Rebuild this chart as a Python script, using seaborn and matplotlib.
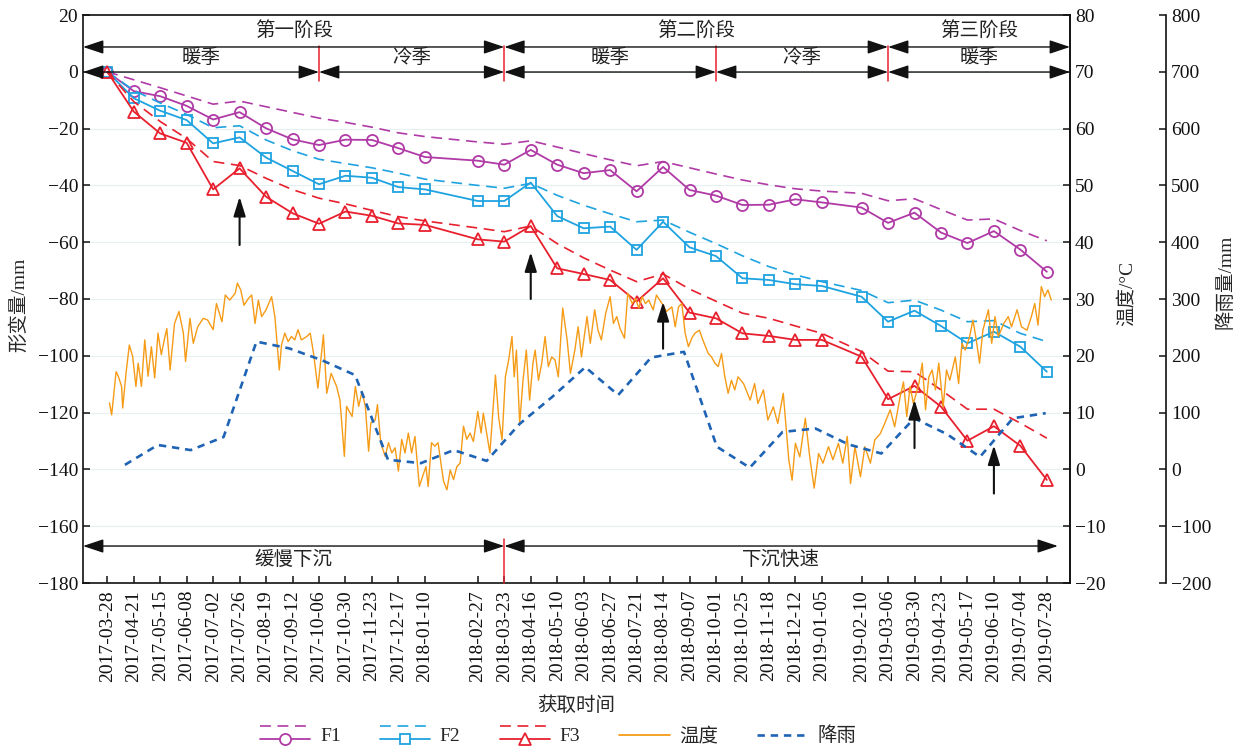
import numpy as np
import pandas as pd
import matplotlib
matplotlib.use("Agg")
import matplotlib.pyplot as plt
import matplotlib.dates as mdates
import matplotlib.transforms as mtrans
from matplotlib.lines import Line2D
from matplotlib.legend_handler import HandlerBase
import seaborn as sns

sns.set_style("ticks")
plt.rcParams["font.family"] = ["Liberation Serif", "Noto Sans CJK SC"]
plt.rcParams["axes.unicode_minus"] = True

# ---------------- data ----------------
dates = ["2017-03-28", "2017-04-21", "2017-05-15", "2017-06-08", "2017-07-02",
         "2017-07-26", "2017-08-19", "2017-09-12", "2017-10-06", "2017-10-30",
         "2017-11-23", "2017-12-17", "2018-01-10", "2018-02-27", "2018-03-23",
         "2018-04-16", "2018-05-10", "2018-06-03", "2018-06-27", "2018-07-21",
         "2018-08-14", "2018-09-07", "2018-10-01", "2018-10-25", "2018-11-18",
         "2018-12-12", "2019-01-05", "2019-02-10", "2019-03-06", "2019-03-30",
         "2019-04-23", "2019-05-17", "2019-06-10", "2019-07-04", "2019-07-28"]

F1 = [0, -6.8, -8.6, -12.0, -16.8, -14.2, -19.9, -23.8, -25.8, -23.9,
      -24.0, -26.9, -30.0, -31.3, -32.7, -27.5, -32.7, -35.7, -34.6, -42.1,
      -33.5, -41.6, -43.6, -46.9, -46.8, -44.9, -46.0, -47.8, -53.2, -49.6,
      -56.6, -60.3, -56.1, -62.6, -70.4]
F1_fit = [0, -2.8, -5.6, -8.5, -11.4, -10.3, -12.3, -14.3, -16.3, -17.8,
          -19.5, -21.5, -22.8, -24.7, -25.5, -24.3, -26.5, -28.8, -31.0, -33.1,
          -31.6, -33.8, -36.0, -38.1, -39.8, -41.2, -42.0, -42.8, -45.4, -44.7,
          -48.5, -52.2, -51.8, -55.9, -59.5]
F2 = [0, -9.3, -13.7, -17.0, -25.2, -23.1, -30.2, -34.9, -39.6, -36.6,
      -37.3, -40.6, -41.4, -45.5, -45.5, -39.0, -50.8, -55.1, -54.5, -62.7,
      -52.8, -61.8, -64.9, -72.7, -73.3, -74.8, -75.4, -79.2, -88.0, -84.1,
      -89.5, -95.6, -91.5, -96.8, -105.6]
F2_fit = [0, -6.5, -11.0, -15.0, -19.7, -19.0, -24.0, -27.8, -30.8, -32.3,
          -33.8, -35.7, -37.8, -40.0, -41.0, -39.3, -43.5, -47.0, -50.0, -52.8,
          -52.2, -56.5, -60.5, -64.8, -68.6, -71.5, -73.9, -77.0, -81.3, -80.4,
          -83.9, -88.0, -87.6, -92.1, -95.0]
F3 = [0, -14.0, -21.7, -25.0, -41.4, -34.0, -44.0, -49.8, -53.5, -49.2,
      -50.7, -53.4, -53.9, -59.0, -59.8, -54.3, -69.2, -71.2, -73.3, -80.9,
      -72.7, -84.8, -86.8, -92.1, -93.0, -94.4, -94.4, -100.3, -115.3, -110.6,
      -117.9, -129.9, -124.8, -131.7, -143.7]
F3_fit = [0, -10.5, -17.5, -23.5, -31.6, -33.0, -37.5, -41.5, -44.5, -46.5,
          -48.8, -51.0, -52.5, -55.0, -56.3, -54.3, -60.5, -65.5, -69.8, -73.9,
          -71.2, -76.5, -80.8, -85.0, -86.8, -89.5, -92.1, -98.5, -105.4, -105.6,
          -112.0, -118.8, -118.8, -123.7, -129.0]

# temperature readings: day offset from 2017-03-28, value (degC)
temp_day = [2, 4, 8, 10, 13, 14, 17, 20, 23, 26,
            28, 31, 34, 37, 40, 43, 46, 49, 52, 54,
            57, 61, 65, 69, 71, 75, 78, 82, 87, 91,
            96, 99, 104, 107, 111, 116, 118, 121, 124, 128,
            131, 134, 137, 140, 144, 149, 152, 156, 158, 161,
            164, 167, 170, 173, 176, 181, 184, 187, 191, 196,
            199, 203, 208, 211, 215, 217, 222, 225, 228, 231,
            234, 237, 239, 243, 245, 248, 252, 255, 258, 261,
            264, 267, 270, 273, 276, 279, 283, 286, 289, 291,
            294, 297, 300, 303, 305, 308, 311, 314, 317, 320,
            323, 326, 329, 332, 336, 339, 341, 345, 347, 352,
            355, 358, 361, 364, 367, 369, 371, 374, 377, 380,
            383, 386, 388, 391, 394, 397, 400, 403, 406, 409,
            413, 417, 420, 424, 427, 430, 435, 438, 442, 445,
            448, 452, 456, 459, 462, 465, 469, 472, 476, 479,
            482, 485, 488, 491, 495, 498, 501, 504, 507, 512,
            515, 518, 521, 524, 527, 530, 533, 537, 540, 545,
            548, 551, 554, 557, 560, 563, 566, 569, 572, 577,
            583, 587, 590, 595, 599, 604, 608, 613, 618, 621,
            624, 628, 633, 637, 641, 645, 649, 654, 658, 663,
            667, 671, 674, 678, 683, 687, 692, 696, 701, 705,
            710, 714, 719, 722, 725, 728, 731, 736, 739, 742,
            745, 748, 751, 754, 758, 761, 764, 769, 772, 775,
            778, 782, 785, 788, 791, 794, 799, 802, 805, 808,
            813, 817, 820, 825, 829, 834, 838, 841, 844, 847,
            850, 853, 856]
temp_val = [11.7, 9.6, 17.2, 16.4, 14.6, 10.8, 16.9, 21.9, 19.9, 14.6,
            18.7, 14.6, 22.8, 16.4, 21.6, 16.1, 24.0, 20.2, 23.1, 24.8,
            17.5, 25.7, 27.8, 24.0, 19.0, 26.6, 22.2, 25.1, 26.6, 26.3,
            24.6, 29.2, 26.0, 30.7, 29.8, 31.0, 32.8, 31.6, 28.9, 30.1,
            30.7, 25.7, 29.8, 26.9, 28.1, 30.4, 26.9, 17.5, 21.9, 24.0,
            22.5, 23.4, 22.8, 24.6, 22.8, 23.4, 24.0, 20.5, 14.3, 23.7,
            13.4, 16.9, 14.6, 12.2, 2.3, 11.1, 9.3, 14.6, 11.1, 13.7,
            11.1, 3.2, 8.2, 8.7, 11.4, 4.7, 2.3, 4.7, 2.9, 3.8,
            -0.3, 5.3, 2.9, 6.4, 2.9, 5.8, -3.0, -1.2, 0.5, -3.0,
            4.7, 4.1, 4.7, 0.5, -2.1, -3.6, -0.1, -1.8, 0.5, 1.1,
            7.6, 5.3, 6.4, 4.9, 10.2, 6.4, 9.9, 5.3, 2.9, 16.6,
            9.0, 5.2, 16.3, 19.3, 23.4, 16.3, 21.0, 8.1, 15.7, 21.0,
            12.2, 18.7, 21.0, 15.7, 18.7, 23.4, 18.1, 19.8, 19.3, 16.3,
            28.4, 22.8, 16.9, 21.0, 25.1, 19.8, 26.9, 22.2, 28.1, 24.5,
            22.8, 27.5, 30.4, 25.7, 26.9, 24.8, 23.1, 31.0, 29.2, 30.1,
            28.4, 30.4, 29.2, 29.8, 28.1, 30.7, 29.8, 28.9, 27.8, 28.6,
            25.1, 28.6, 29.2, 24.0, 21.6, 23.1, 24.0, 24.5, 22.8, 20.4,
            19.8, 18.7, 18.1, 20.4, 16.3, 13.4, 15.7, 14.0, 16.3, 15.1,
            12.2, 15.1, 11.6, 14.0, 8.7, 11.0, 8.1, 13.4, 1.7, -1.9,
            4.6, 2.2, 9.0, 2.2, -3.3, 2.8, 1.1, 4.0, 1.7, 4.6,
            1.1, 5.8, -2.5, 4.0, -1.3, 4.0, 1.1, 5.2, 6.3, 8.1,
            10.5, 7.5, 12.8, 15.4, 9.3, 14.6, 11.6, 15.1, 18.7, 10.5,
            16.3, 17.5, 14.0, 18.7, 11.0, 17.5, 15.7, 19.8, 15.1, 22.2,
            21.0, 23.4, 26.3, 22.8, 18.7, 24.5, 28.1, 22.2, 26.9, 23.4,
            25.7, 26.9, 25.1, 28.1, 25.1, 24.5, 26.9, 29.2, 25.4, 32.2,
            30.4, 31.6, 29.8]

# monthly rainfall (mm)
rain_val = [8, 43, 34, 57, 225, 213, 192, 166, 17, 11,
            34, 15, 80, 128, 180, 131, 197, 207, 40, 3,
            66, 72, 44, 28, 90, 62, 22, 90, 99]
rain_start, rain_end = "2017-04-13", "2019-07-27"

stage_labels = ["第一阶段", "第二阶段", "第三阶段"]
stage_bounds = ["2018-03-23", "2019-03-06"]
season_labels = ["暖季", "冷季", "暖季", "冷季", "暖季"]
season_bounds = ["2017-10-06", "2018-03-23", "2018-10-01", "2019-03-06"]
trend_labels = ["缓慢下沉", "下沉快速"]
trend_bound = "2018-03-23"
trend_end = "2019-08-07"
arrow_dates = ["2017-07-26", "2018-04-16", "2018-08-14", "2019-03-30", "2019-06-10"]
arrow_low = [-61, -80, -97.5, -132.5, -148.5]
arrow_high = [-44, -63.5, -81, -115.5, -131.5]

left_ticks = list(range(-180, 21, 20))
temp_ticks = list(range(-20, 81, 10))
rain_ticks = list(range(-200, 801, 100))

# ---------------- styles ----------------
C1, C2, C3 = "#B03AA6", "#1FA3E0", "#E8202E"
CT, CR = "#F59B16", "#1E63B4"
FS = 14

t0 = pd.Timestamp("2017-03-28")
xd = pd.to_datetime(dates)
xmin = t0 - pd.Timedelta(days=22)
xmax = t0 + pd.Timedelta(days=873)

fig = plt.figure(figsize=(12.46, 7.48), dpi=100)
ax = fig.add_axes([83 / 1246, 1 - 583 / 748, 987 / 1246, 568 / 748])
ax2 = ax.twinx()
ax3 = ax.twinx()
ax3.spines["right"].set_position(("axes", 1.0973))

fit_ls = (0, (6.5, 4))
for vals, fit, c, mk, ms in [(F1, F1_fit, C1, "o", 8), (F2, F2_fit, C2, "s", 7.5),
                             (F3, F3_fit, C3, "^", 8.5)]:
    sns.lineplot(x=xd, y=fit, ax=ax, color=c, linestyle=fit_ls, lw=1.2, legend=False)
    sns.lineplot(x=xd, y=vals, ax=ax, color=c, lw=1.3, marker=mk, markersize=ms,
                 markerfacecolor="none", markeredgecolor=c, markeredgewidth=1.3,
                 legend=False)

tdates = t0 + pd.to_timedelta(temp_day, unit="D")
sns.lineplot(x=tdates, y=temp_val, ax=ax2, color=CT, lw=1.0, legend=False)
rdates = pd.date_range(rain_start, rain_end, periods=len(rain_val))
sns.lineplot(x=rdates, y=rain_val, ax=ax3, color=CR, lw=1.9,
             linestyle=(0, (2.8, 2.2)), legend=False)

ax.set_xlim(xmin, xmax)
ax.set_ylim(-180, 20)
ax2.set_ylim(-20, 80)
ax3.set_ylim(-200, 800)
ax.set_yticks(left_ticks)
ax2.set_yticks(temp_ticks)
ax3.set_yticks(rain_ticks)
ax.set_xticks(xd)
ax.set_xticklabels([d.strftime("%Y-%m-%d") for d in xd], rotation=90)
ax.grid(axis="y", color="#e6f0f0", lw=0.8)
ax.set_xlabel("")
for a in (ax, ax2, ax3):
    a.set_ylabel("")
    a.tick_params(direction="in", length=5, width=1.1, labelsize=FS, colors="#111")
for s in ax.spines.values():
    s.set_linewidth(1.2)
    s.set_color("#111")
for a in (ax2, ax3):
    for k in ("left", "top", "bottom"):
        a.spines[k].set_visible(False)
    a.spines["right"].set_linewidth(1.2)
    a.spines["right"].set_color("#111")
ax.tick_params(axis="x", length=5, pad=5)

ax.set_ylabel("形变量/mm", fontsize=FS)
ax.yaxis.set_label_coords(-0.0557, 0.49)
ax2.set_ylabel("温度/°C", fontsize=FS)
ax2.yaxis.set_label_coords(1.0486, 0.51)
ax3.set_ylabel("降雨量/mm", fontsize=FS)
ax3.yaxis.set_label_coords(1.148, 0.53)
fig.text(0.4627, 0.056, "获取时间", ha="center", va="center", fontsize=FS)

# ---------------- annotations ----------------
bt = mtrans.blended_transform_factory(ax.transData, ax.transAxes)
num = lambda s: mdates.date2num(pd.Timestamp(s))
xl, xr = num(xmin), num(xmax)


def darrow(x0, x1, y):
    ax3.annotate("", xy=(x1, y), xytext=(x0, y), xycoords=bt, textcoords=bt,
                 arrowprops=dict(arrowstyle="<|-|>,head_length=0.9,head_width=0.3",
                                 color="#111", lw=1.0, shrinkA=0, shrinkB=0,
                                 mutation_scale=14))


def red_line(x, y0, y1):
    ax3.plot([x, x], [y0, y1], transform=bt, color=C3, lw=1.1, clip_on=False)


# stages (top row)
sb = [xl] + [num(s) for s in stage_bounds] + [xr]
for i, lab in enumerate(stage_labels):
    darrow(sb[i], sb[i + 1], 0.9437)
    ax3.text((sb[i] + sb[i + 1]) / 2, 0.9736, lab, transform=bt, ha="center",
             va="center", fontsize=FS, color="#222")
# seasons (second row)
qb = [xl] + [num(s) for s in season_bounds] + [xr]
for i, lab in enumerate(season_labels):
    darrow(qb[i], qb[i + 1], 0.8996)
    ax3.text((qb[i] + qb[i + 1]) / 2, 0.9243, lab, transform=bt, ha="center",
             va="center", fontsize=FS, color="#222")
for s in season_bounds:
    red_line(num(s), 0.946, 0.884)
# bottom trend row
tb = [xl, num(trend_bound), num(trend_end)]
for i, lab in enumerate(trend_labels):
    darrow(tb[i], tb[i + 1], 0.0651)
    ax3.text((tb[i] + tb[i + 1]) / 2, 0.0405, lab, transform=bt, ha="center",
             va="center", fontsize=FS, color="#222")
red_line(num(trend_bound), 0.077, 0.0)

# up arrows
for d, lo, hi in zip(arrow_dates, arrow_low, arrow_high):
    ax3.annotate("", xy=(num(d), hi), xytext=(num(d), lo), xycoords=ax.transData,
                 textcoords=ax.transData,
                 arrowprops=dict(arrowstyle="-|>,head_length=0.9,head_width=0.28",
                                 color="#111", lw=1.5, shrinkA=0, shrinkB=0,
                                 mutation_scale=13))


# ---------------- legend ----------------
class StackHandler(HandlerBase):
    def create_artists(self, legend, orig_handle, xdescent, ydescent, width,
                       height, fontsize, trans):
        c = orig_handle.get_color()
        mk = orig_handle.get_marker()
        ms = orig_handle.get_markersize()
        x0 = -xdescent
        y_top = -ydescent + height * 1.15
        y_bot = -ydescent + height * 0.2
        l1 = Line2D([x0, x0 + width], [y_top, y_top], color=c, lw=1.2,
                    linestyle=fit_ls)
        l2 = Line2D([x0, x0 + width], [y_bot, y_bot], color=c, lw=1.3)
        l3 = Line2D([x0 + width / 2], [y_bot], marker=mk, markersize=ms,
                    markerfacecolor="white", markeredgecolor=c,
                    markeredgewidth=1.3, linestyle="none")
        for a in (l1, l2, l3):
            a.set_transform(trans)
        return [l1, l2, l3]


h1 = Line2D([], [], color=C1, marker="o", markersize=8)
h2 = Line2D([], [], color=C2, marker="s", markersize=7.5)
h3 = Line2D([], [], color=C3, marker="^", markersize=8.5)
h4 = Line2D([], [], color=CT, lw=1.3)
h5 = Line2D([], [], color=CR, lw=1.9, linestyle=(0, (2.8, 2.2)))
hm = {h1: StackHandler(), h2: StackHandler(), h3: StackHandler()}
fig.legend([h1, h2, h3, h4, h5], ["F1", "F2", "F3", "温度", "降雨"],
           handler_map=hm, loc="center", bbox_to_anchor=(0.448, 0.016), ncol=5,
           frameon=False, fontsize=FS, handlelength=2.6, handletextpad=0.5,
           columnspacing=2.0, borderpad=0.2)

fig.savefig("out.png", dpi=100)
